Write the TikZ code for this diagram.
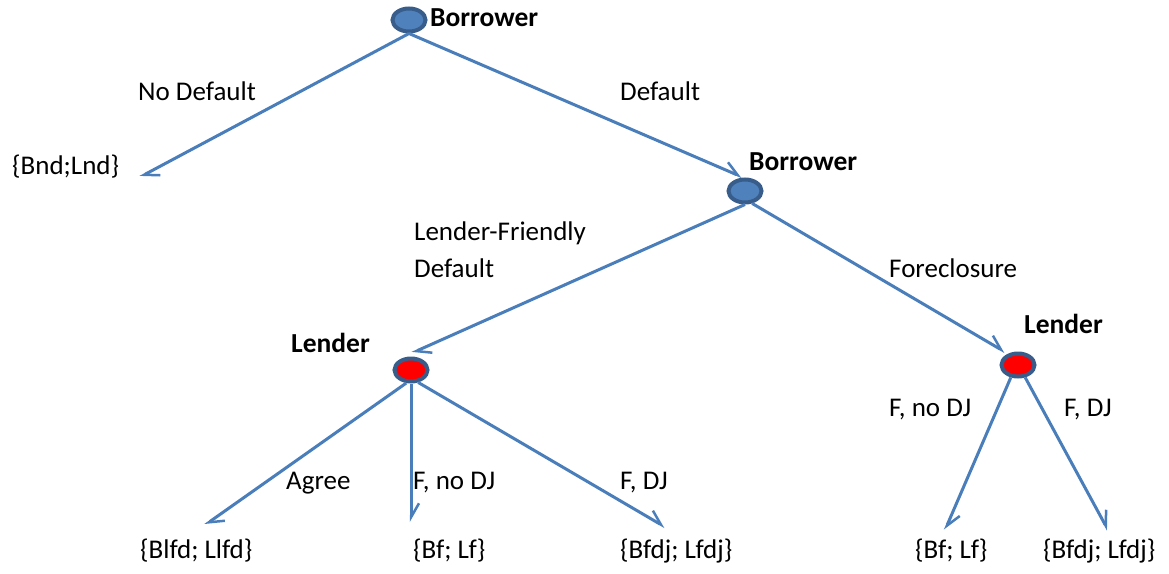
\documentclass[tikz,border=0pt]{standalone}
\usepackage{fontspec}
\setmainfont{Carlito}
\usetikzlibrary{arrows.meta,shapes.geometric}
\definecolor{nodeedge}{HTML}{385D8A}
\definecolor{nodeblue}{HTML}{4F81BD}
\definecolor{linkblue}{HTML}{4A7EBB}
\begin{document}
\begin{tikzpicture}[x=1pt,y=-1pt,
  player/.style={ellipse, draw=nodeedge, line width=4pt, fill=nodeblue,
    minimum width=33pt, minimum height=23pt, inner sep=0pt},
  lenderpt/.style={player, fill=red},
  branch/.style={draw=linkblue, line width=3pt,
    -{Straight Barb[harpoon, length=14pt, width=16pt, line width=2.5pt]}},
  lbl/.style={font=\fontsize{27}{31}\selectfont, anchor=west, inner sep=0pt},
  who/.style={lbl, font=\fontsize{27.5}{31}\selectfont\bfseries}]
\useasboundingbox (0,0) rectangle (1169,573);

% decision points
\node[player]   (b1) at (409,20)  {};
\node[player]   (b2) at (745,191) {};
\node[lenderpt] (l1) at (411,370) {};
\node[lenderpt] (l2) at (1018,365) {};

\node[who] (t1) at (430,18)  {Borrower};
\node[who] (t2) at (749,162) {Borrower};
\node[who] (t3) at (291,343) {Lender};
\node[who] (t4) at (1024,324) {Lender};

% outcome ends
\coordinate (e1) at (140,177);
\coordinate (e2) at (411,522);
\coordinate (e3) at (205,525);
\coordinate (e4) at (665,527);
\coordinate (e5) at (945,530);
\coordinate (e6) at (1108,530);
\coordinate (m1) at (742,177);
\coordinate (m2) at (412,353);
\coordinate (m3) at (1005,352);

\draw[branch] (b1.south) -- (e1);
\draw[branch] (b1.south) -- (m1);
\draw[branch] (b2.south) -- (m2);
\draw[branch] (b2.-60) -- (m3);
\draw[branch] (l1.250) -- (e3);
\draw[branch] (l1.south) -- (e2);
\draw[branch] (l1.-60) -- (e4);
\draw[branch] (l2.240) -- (e5);
\draw[branch] (l2.-60) -- (e6);

% branch labels
\node[lbl] (a1) at (138,91)  {No Default};
\node[lbl] (a2) at (620,91)  {Default};
\node[lbl] (a3) at (414,233) {Lender-Friendly};
\node[lbl] (a4) at (414,268) {Default};
\node[lbl] (a5) at (889,268) {Foreclosure};
\node[lbl] (a6) at (286,483) {Agree};
\node[lbl] (a7) at (413,483) {F, no DJ};
\node[lbl] (a8) at (620,483) {F, DJ};
\node[lbl] (a9) at (889,410) {F, no DJ};
\node[lbl] (a10) at (1064,410) {F, DJ};

% payoffs
\node[lbl] (p1) at (12,167)  {\{Bnd;Lnd\}};
\node[lbl] (p2) at (140,551) {\{Blfd; Llfd\}};
\node[lbl] (p3) at (413,551) {\{Bf; Lf\}};
\node[lbl] (p4) at (620,551) {\{Bfdj; Lfdj\}};
\node[lbl] (p5) at (915,551) {\{Bf; Lf\}};
\node[lbl] (p6) at (1043,551) {\{Bfdj; Lfdj\}};
\end{tikzpicture}
\end{document}
